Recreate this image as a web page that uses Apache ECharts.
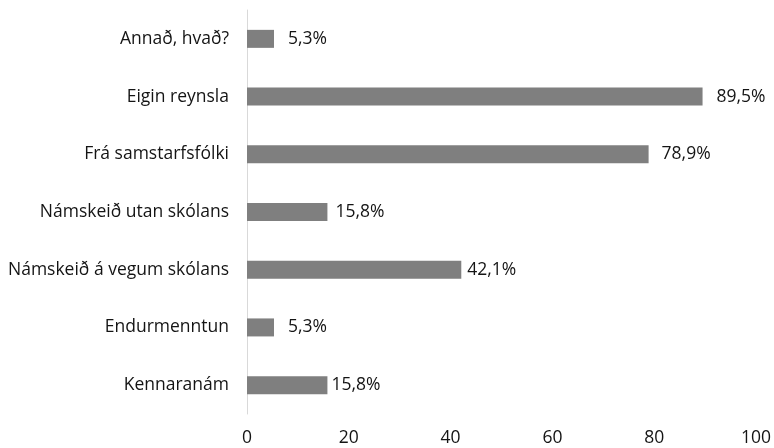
<!DOCTYPE html>
<html>
<head>
<meta charset="utf-8">
<script src="https://cdn.jsdelivr.net/npm/echarts@6/dist/echarts.min.js"></script>
<style>
  html, body { margin: 0; padding: 0; background: #fff; }
  #main { width: 774px; height: 448px; }
</style>
</head>
<body>
<div id="main"></div>
<script>
// bottom to top, as on the y axis
let categories = ['Kennaranám', 'Endurmenntun', 'Námskeið á vegum skólans', 'Námskeið utan skólans', 'Frá samstarfsfólki', 'Eigin reynsla', 'Annað, hvað?'];
let values = [15.8, 5.3, 42.1, 15.8, 78.9, 89.5, 5.3];
let xTicks = [0, 20, 40, 60, 80, 100];

// gap between bar end and its label, as in the picture
let labelGap = [4, 14, 6, 8, 13, 14, 14];

let font = '"Open Sans", sans-serif';
let textColor = '#141414';
let fs = 17.5;

let mychart = echarts.init(document.getElementById('main'));
let option = {
    animation: false,
    grid: {
        left: 247,
        right: 18,
        top: 10,
        bottom: 34,
        containLabel: false,
        outerBoundsMode: 'none'
    },
    xAxis: {
        type: 'value',
        min: xTicks[0],
        max: xTicks[xTicks.length - 1],
        interval: 20,
        axisLine: { show: false },
        axisTick: { show: false },
        splitLine: { show: false },
        axisLabel: {
            margin: 15,
            fontSize: fs,
            fontFamily: font,
            color: textColor
        }
    },
    yAxis: {
        type: 'category',
        data: categories,
        axisLine: { show: true, lineStyle: { color: '#d9d9d9', width: 1 } },
        axisTick: { show: false },
        axisLabel: {
            margin: 18,
            fontSize: fs,
            fontFamily: font,
            color: textColor
        }
    },
    series: [{
        type: 'bar',
        barWidth: 18,
        itemStyle: { color: '#7f7f7f' },
        data: values.map((v, i) => ({
            value: v,
            label: { distance: labelGap[i] }
        })),
        label: {
            show: true,
            position: 'right',
            fontSize: fs,
            fontFamily: font,
            color: textColor,
            formatter: p => p.value.toFixed(1).replace('.', ',') + '%'
        }
    }]
};
mychart.setOption(option);
</script>
</body>
</html>
